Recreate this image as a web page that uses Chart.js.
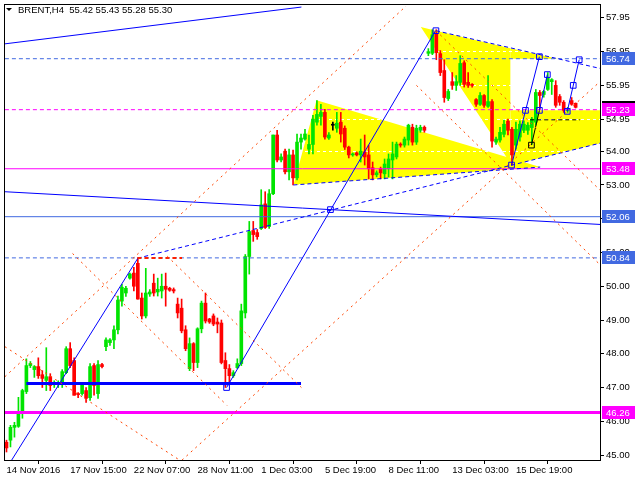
<!DOCTYPE html>
<html><head><meta charset="utf-8">
<script src="https://cdn.jsdelivr.net/npm/chart.js@4/dist/chart.umd.min.js"></script>
<style>html,body{margin:0;padding:0;background:#fff;overflow:hidden}canvas{display:block}</style>
</head><body>
<canvas id="c" width="640" height="480"></canvas>
<script>
// ---- candle data (H4 bars, index 0 = 14 Nov 2016) ----
const opens = [45.38,45.44,45.82,45.85,46.27,46.88,47.65,47.53,47.62,47.38,
47.21,47.32,47.10,47.09,47.12,47.44,48.15,47.80,46.82,46.82,
46.91,46.70,47.65,46.82,47.68,48.21,48.33,48.41,48.71,49.56,
49.80,50.24,50.39,50.68,49.65,49.12,49.77,50.09,49.83,49.86,
50.00,49.94,49.90,49.47,49.35,48.71,47.56,48.30,47.74,48.74,
49.50,49.03,49.12,48.94,48.91,47.80,47.56,47.35,47.59,47.71,
49.21,50.88,51.65,51.59,51.71,52.44,51.77,52.74,54.48,53.74,
54.00,53.39,53.89,53.21,54.27,54.36,54.06,54.20,54.86,55.03,
55.15,54.39,54.77,54.68,54.86,54.68,54.12,53.89,53.95,53.89,
53.98,53.89,53.51,53.30,53.48,53.33,53.48,53.74,53.83,54.21,
54.18,54.33,54.71,54.27,54.62,54.71,56.90,56.90,57.48,56.89,
56.39,55.56,56.06,55.95,56.04,56.62,56.04,55.98,55.53,55.39,
55.65,55.33,55.47,54.27,54.33,54.50,54.89,54.65,54.18,54.42,
54.62,54.62,54.70,54.86,55.74,55.68,55.83,56.06,55.95,55.62,
55.45,55.20,55.50,55.42];
const closes = [45.21,45.82,45.88,46.24,46.91,47.65,47.71,47.62,47.35,47.27,
47.32,47.06,47.12,47.15,47.47,48.15,47.65,46.77,46.79,47.12,
46.68,47.62,47.06,47.68,47.62,48.41,48.41,48.71,49.59,49.97,
49.94,50.36,50.00,49.62,49.12,49.80,49.83,49.80,49.91,50.00,
49.91,49.88,49.86,49.21,48.68,48.15,48.30,47.74,48.74,49.50,
48.97,48.94,48.88,48.88,47.74,47.56,47.35,47.44,47.71,49.27,
50.88,51.62,51.53,51.47,52.41,51.74,52.74,54.48,53.74,53.83,
53.39,53.89,53.21,54.27,54.39,54.51,54.20,54.95,55.09,55.15,
54.42,54.48,54.77,54.83,54.51,54.12,53.89,53.92,53.89,54.00,
53.83,53.48,53.30,53.36,53.36,53.62,53.77,53.92,54.21,54.18,
54.36,54.77,54.27,54.68,54.71,54.62,56.95,57.45,56.92,56.33,
55.59,55.77,55.95,56.06,56.60,55.98,55.95,55.95,55.39,55.65,
55.36,55.47,54.30,54.36,54.56,54.80,54.62,53.89,54.65,54.80,
54.80,54.77,54.95,55.74,55.65,55.77,56.18,56.12,55.36,55.45,
55.21,55.24,55.39,55.30];
const highs = [45.44,45.88,45.97,46.71,46.95,47.85,47.77,47.65,47.88,47.50,
48.18,47.41,47.20,47.20,47.53,48.21,48.33,47.88,46.85,47.15,
47.00,47.71,47.71,47.80,47.72,48.47,48.45,48.83,49.71,50.06,
50.00,50.39,50.56,50.84,49.80,50.53,49.90,50.36,50.24,50.36,
50.39,49.97,49.95,49.65,49.62,48.83,48.47,48.33,48.77,49.56,
49.80,49.05,49.18,49.06,49.00,48.03,47.68,47.50,47.85,49.47,
50.94,51.92,51.92,51.68,52.86,52.80,52.86,54.48,54.62,53.92,
54.06,54.06,54.03,54.51,54.51,54.65,54.48,55.06,55.50,55.39,
55.24,54.55,54.86,55.15,55.15,54.75,54.15,53.95,53.98,54.36,
54.48,54.18,53.68,53.42,53.53,53.77,53.92,54.27,54.27,54.25,
54.42,54.80,54.80,54.77,54.77,54.75,57.04,57.60,57.60,56.98,
56.71,55.83,56.33,56.24,56.83,56.68,56.33,56.00,55.56,55.74,
55.68,56.24,55.53,54.42,54.71,54.92,54.95,54.71,54.86,54.90,
54.90,54.85,55.00,55.83,55.80,55.80,56.33,56.15,56.09,55.68,
55.50,55.30,55.59,55.43];
const lows = [45.09,45.24,45.53,45.82,46.09,46.82,47.59,47.30,47.27,47.00,
46.91,46.91,47.00,47.00,47.00,47.41,47.59,46.77,46.70,46.77,
46.56,46.62,46.77,46.68,47.58,48.09,48.25,48.15,48.59,49.41,
49.70,50.21,49.86,49.62,49.03,49.06,49.70,49.71,49.71,49.65,
49.41,49.85,49.80,49.06,48.62,48.09,47.50,47.50,47.59,48.62,
48.91,48.90,48.83,48.62,47.70,47.00,47.15,47.30,47.56,47.65,
49.06,50.36,51.33,51.39,51.68,51.71,51.71,52.71,53.68,53.68,
53.33,53.15,53.00,53.15,54.06,54.33,53.92,53.92,54.77,54.77,
54.36,54.35,54.62,54.56,54.27,54.05,53.80,53.85,53.86,53.68,
53.59,53.18,53.15,53.24,53.18,53.18,53.24,53.18,53.77,54.12,
54.12,54.18,54.18,54.20,54.56,54.56,56.83,56.86,56.71,56.24,
55.45,55.50,55.83,55.80,55.95,55.90,55.89,55.90,55.33,55.36,
55.30,55.30,54.12,54.20,54.27,54.42,54.48,53.59,54.06,54.30,
54.55,54.50,54.20,54.77,55.24,55.60,55.80,55.68,55.30,55.36,
55.15,55.15,55.36,55.28];

// ---- axis ticks ----
const xTickIndex = [0,16,32,48,64,80,96,112,128];
const xTickLabels = ['14 Nov 2016','17 Nov 15:00','22 Nov 07:00','28 Nov 11:00','1 Dec 03:00','5 Dec 19:00','8 Dec 11:00','13 Dec 03:00','15 Dec 19:00'];
const yTickValues = [57.95,56.95,55.95,54.95,54.00,53.00,52.00,51.00,50.00,49.00,48.00,47.00,46.00,45.00];

// ---- horizontal levels ----
const levelBlueDash = [56.74];
const levelMagentaDash = [55.23];
const levelMagenta = [53.48];
const levelRoyal = [52.06];
const levelRoyalDash = [50.84];
const levelMagentaThick = [46.26];
const currentPrice = 55.30;
const headerText = 'BRENT,H4  55.42 55.43 55.28 55.30';

// ---- drawn objects: [barIndex, price] ----
const blueLine1 = [[1.3,44.85],[33,50.83]];
const blueLine2 = [[-0.4,57.18],[74.1,58.27]];
const blueLine3 = [[-0.4,52.80],[149.2,51.83]];
const blueLine4 = [[55.3,47.00],[107.8,57.57]];
const blueSupport = [[5,47.12],[74,47.12]];
const blueZig1 = [[126.9,53.59],[133.9,56.80]];
const blueZig2 = [[133.9,55.21],[135.9,56.27]];
const blueZig3 = [[140.9,55.18],[143.9,56.71]];
const blackZig = [[131.9,54.18],[133.9,55.21]];
const blackDash = [[131.6,54.93],[144.1,54.93]];
const blueDash1 = [[32.9,50.83],[149.2,54.24]];
const blueDash2 = [[107.9,57.57],[149.2,56.45]];
const blueDash3 = [[72.1,53.00],[134.1,53.53]];
const redDot1 = [[-0.4,47.32],[100.4,58.30]];
const redDot2 = [[44.1,44.85],[149.2,56.07]];
const redDot3 = [[16.6,50.97],[55.4,46.47]];
const redDot4 = [[40.4,50.89],[74.1,47.00]];
const redDot5 = [[-0.4,48.21],[43.5,44.85]];
const redDot6 = [[107.9,57.57],[149.2,52.84]];
const redDot7 = [[103.0,55.95],[149.2,50.63]];
const redDash50 = [[32.9,50.84],[44.1,50.84]];
const markerBlue = [[107.9,57.57],[133.9,56.80],[135.9,56.27],[143.9,56.71],[142.4,55.95],[140.9,55.18],[133.9,55.21],[130.4,55.21],[126.9,53.59],[81.4,52.27],[55.3,47.00]];
const markerBlack = [[131.9,54.18]];

const triangleA = [[72.1,53.00],[77.9,55.51],[134.1,53.53]];
const triangleB = [[104.1,57.68],[107.9,57.57],[126.6,57.05],[126.6,53.65]];
const triangleC = [[126.6,55.21],[149.2,55.21],[149.2,54.24],[126.9,53.59]];
const wedgeD = [[126.6,57.05],[138.5,56.74],[126.6,56.74]];

const UP = '#00e400', DOWN = '#ff0000';
const candleColor = opens.map((o,i)=> closes[i] > o ? UP : (closes[i] < o ? DOWN : '#000000'));

function seg(pts, color, width, dash, order){
  return {type:'line', data: pts.map(p=>({x:p[0], y:p[1]})), borderColor:color, borderWidth:width,
    borderDash:dash||[], pointRadius:0, fill:false, tension:0, order: order===undefined?1:order};
}
function hline(v, color, width, dash){ return seg([[-0.4,v],[149.2,v]], color, width, dash, 2); }

const FONT = {family:'"Liberation Sans", Arial, sans-serif', size:9.5};
const ROYAL = '#4169e1', BLUE = '#0000ff', MAG = '#ff00ff', ORED = '#ff4500';

const datasets = [
  {type:'bar', data: lows.map((l,i)=>({x:i, y:[l, highs[i]]})), backgroundColor: candleColor, barThickness:1, grouped:false, minBarLength:1, order:11},
  {type:'bar', data: opens.map((o,i)=>({x:i, y:[o, closes[i]]})), backgroundColor: candleColor, barThickness:3, grouped:false, minBarLength:1, order:10},
  hline(levelBlueDash[0], ROYAL, 1, [4,3]),
  hline(levelMagentaDash[0], MAG, 1, [4,3]),
  hline(levelMagenta[0], MAG, 1),
  hline(levelRoyal[0], ROYAL, 1),
  hline(levelRoyalDash[0], ROYAL, 1, [4,3]),
  hline(levelMagentaThick[0], MAG, 3),
  seg(redDot1, ORED, 1, [2,4]),
  seg(redDot2, ORED, 1, [2,4]),
  seg(redDot3, ORED, 1, [2,4]),
  seg(redDot4, ORED, 1, [2,4]),
  seg(redDot5, ORED, 1, [2,4]),
  seg(redDot6, ORED, 1, [2,4]),
  seg(redDot7, ORED, 1, [2,4]),
  seg(redDash50, '#ff2000', 2, [4,3]),
  seg(blueLine1, BLUE, 1), seg(blueLine2, BLUE, 1), seg(blueLine3, BLUE, 1), seg(blueLine4, BLUE, 1),
  seg(blueSupport, BLUE, 3),
  seg(blueZig1, BLUE, 1), seg(blueZig2, BLUE, 1), seg(blueZig3, BLUE, 1),
  seg(blackZig, '#000000', 1), seg(blackDash, '#000000', 1, [4,3]),
  seg(blueDash1, BLUE, 1, [4,3]), seg(blueDash2, BLUE, 1, [4,3]), seg(blueDash3, BLUE, 1, [4,3]),
  {type:'line', data: markerBlue.map(p=>({x:p[0],y:p[1]})), showLine:false, pointStyle:'rect', pointRadius:4, pointBorderColor:BLUE, pointBackgroundColor:'rgba(0,0,0,0)', pointBorderWidth:1, order:0},
  {type:'line', data: markerBlack.map(p=>({x:p[0],y:p[1]})), showLine:false, pointStyle:'rect', pointRadius:4, pointBorderColor:'#000', pointBackgroundColor:'rgba(0,0,0,0)', pointBorderWidth:1, order:0}
];

const bgPlugin = {
  id:'bg',
  beforeDraw(chart){
    const {ctx, scales:{x,y}, chartArea:a} = chart;
    ctx.save();
    ctx.fillStyle = '#fff'; ctx.fillRect(0,0,chart.width,chart.height);
    ctx.beginPath(); ctx.rect(a.left,a.top,a.right-a.left,a.bottom-a.top); ctx.clip();
    ctx.fillStyle = '#ffff00';
    [triangleA, triangleB, triangleC, wedgeD].forEach(poly=>{
      ctx.beginPath();
      poly.forEach((p,i)=>{ const px=x.getPixelForValue(p[0]), py=y.getPixelForValue(p[1]); i?ctx.lineTo(px,py):ctx.moveTo(px,py); });
      ctx.closePath(); ctx.fill();
    });
    ctx.restore();
  },
  afterDraw(chart){
    const {ctx, scales:{y}, chartArea:a} = chart;
    ctx.save();
    ctx.strokeStyle='#000'; ctx.lineWidth=1;
    ctx.strokeRect(a.left-0.5, a.top-0.5, a.right-a.left+1, a.bottom-a.top+1);
    ctx.font = '9.5px "Liberation Sans", Arial, sans-serif';
    ctx.textBaseline='middle'; ctx.textAlign='left';
    const cy = y.getPixelForValue(currentPrice);
    ctx.fillStyle='#000'; ctx.fillRect(602, Math.round(cy-6.5), 33, 13);
    const boxes = [[levelBlueDash[0],ROYAL],[levelMagentaDash[0],MAG],[levelMagenta[0],MAG],[levelRoyal[0],ROYAL],[levelRoyalDash[0],ROYAL],[levelMagentaThick[0],MAG]];
    boxes.forEach(([v,c])=>{
      const py = y.getPixelForValue(v);
      ctx.fillStyle=c; ctx.fillRect(602, Math.round(py-6.5), 33, 13);
      ctx.fillStyle='#fff'; ctx.fillText(v.toFixed(2), 606, py+0.5);
    });
    ctx.fillStyle='#000';
    ctx.beginPath(); ctx.moveTo(6,8); ctx.lineTo(12,8); ctx.lineTo(9,11); ctx.closePath(); ctx.fill();
    ctx.fillText(headerText, 18, 10);
    ctx.restore();
  }
};

new Chart(document.getElementById('c'), {
  type:'bar',
  data:{datasets},
  plugins:[bgPlugin],
  options:{
    responsive:false, animation:false, devicePixelRatio:1,
    layout:{padding:{left:2, top:2, right:0, bottom:0}},
    plugins:{legend:{display:false}, tooltip:{enabled:false}, title:{display:false}},
    scales:{
      x:{type:'linear', min:-0.375, max:149.125, offset:false,
        afterBuildTicks(s){ s.ticks = xTickIndex.map(v=>({value:v})); },
        afterFit(s){ s.height = 20; s.paddingLeft = 0; s.paddingRight = 0; },
        grid:{drawOnChartArea:false, drawTicks:true, tickLength:4, tickColor:'#000'},
        border:{display:false},
        ticks:{autoSkip:false, maxRotation:0, align:'start', padding:1, color:'#000', font:FONT,
          callback(v){ const k = xTickIndex.indexOf(v); return k>=0 ? xTickLabels[k] : ''; }}
      },
      y:{type:'linear', position:'right', min:44.853, max:58.331,
        afterBuildTicks(s){ s.ticks = yTickValues.map(v=>({value:v})); },
        afterFit(s){ s.width = 40; s.paddingTop = 0; s.paddingBottom = 0; },
        grid:{drawOnChartArea:true, color:'#ffffff', drawTicks:true, tickLength:4, tickColor:'#000'},
        border:{display:false, dash:[3,3]},
        ticks:{autoSkip:false, padding:2, color:'#000', font:FONT, callback(v){ return Number(v).toFixed(2); }}
      }
    }
  }
});
</script>
</body></html>
